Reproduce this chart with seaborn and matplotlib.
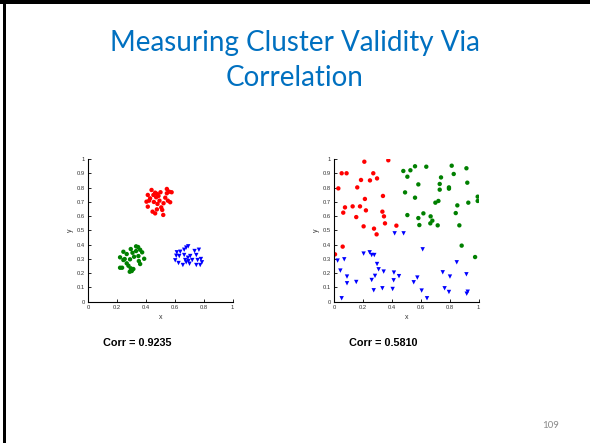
import matplotlib
matplotlib.use("Agg")
import matplotlib.pyplot as plt
from matplotlib.patches import Rectangle
import seaborn as sns
import pandas as pd

# ---- well separated clusters ----
left_red_x = [0.438, 0.412, 0.463, 0.451, 0.477, 0.500, 0.544, 0.560, 0.577, 0.428,
              0.470, 0.486, 0.533, 0.551, 0.567, 0.403, 0.421, 0.454, 0.493, 0.521,
              0.412, 0.475, 0.505, 0.512, 0.445, 0.463, 0.519, 0.544, 0.479]
left_red_y = [0.783, 0.748, 0.764, 0.748, 0.755, 0.767, 0.790, 0.771, 0.767, 0.724,
              0.732, 0.741, 0.729, 0.708, 0.697, 0.701, 0.708, 0.699, 0.708, 0.690,
              0.666, 0.647, 0.661, 0.643, 0.631, 0.619, 0.608, 0.760, 0.685]
left_green_x = [0.294, 0.331, 0.345, 0.359, 0.373, 0.243, 0.266, 0.306, 0.220, 0.252,
                0.289, 0.317, 0.347, 0.387, 0.266, 0.350, 0.278, 0.359, 0.220, 0.234,
                0.294, 0.312, 0.301, 0.287, 0.243, 0.331]
left_green_y = [0.369, 0.388, 0.383, 0.364, 0.346, 0.350, 0.334, 0.343, 0.311, 0.299,
                0.297, 0.315, 0.320, 0.301, 0.269, 0.285, 0.252, 0.264, 0.238, 0.238,
                0.234, 0.229, 0.215, 0.210, 0.292, 0.355]
left_blue_x = [0.678, 0.692, 0.664, 0.613, 0.637, 0.736, 0.766, 0.609, 0.630, 0.664,
               0.706, 0.748, 0.690, 0.602, 0.671, 0.694, 0.757, 0.780, 0.625, 0.655,
               0.678, 0.701, 0.748, 0.775, 0.787, 0.720]
left_blue_y = [0.379, 0.388, 0.364, 0.346, 0.350, 0.355, 0.364, 0.322, 0.320, 0.327,
               0.320, 0.327, 0.308, 0.290, 0.292, 0.285, 0.292, 0.299, 0.271, 0.257,
               0.276, 0.266, 0.257, 0.257, 0.276, 0.292]

# ---- random data split into clusters ----
right_red_x = [0.005, 0.051, 0.085, 0.208, 0.374, 0.270, 0.296, 0.185, 0.159, 0.028,
               0.247, 0.337, 0.074, 0.127, 0.178, 0.212, 0.219, 0.062, 0.152, 0.333,
               0.344, 0.351, 0.203, 0.275, 0.293, 0.430, 0.058]
right_red_y = [0.332, 0.900, 0.900, 0.981, 0.991, 0.900, 0.864, 0.853, 0.801, 0.794,
               0.850, 0.741, 0.661, 0.668, 0.668, 0.720, 0.640, 0.624, 0.593, 0.631,
               0.598, 0.549, 0.528, 0.512, 0.472, 0.533, 0.386]
right_green_x = [0.478, 0.527, 0.559, 0.637, 0.813, 0.915, 0.506, 0.739, 0.827, 0.582,
                 0.730, 0.794, 0.794, 0.730, 0.921, 0.490, 0.559, 0.993, 0.993, 0.721,
                 0.700, 0.928, 0.852, 0.506, 0.617, 0.582, 0.841, 0.667, 0.679, 0.665,
                 0.589, 0.716, 0.866, 0.882, 0.975]
right_green_y = [0.916, 0.921, 0.949, 0.946, 0.953, 0.935, 0.876, 0.871, 0.895, 0.822,
                 0.825, 0.801, 0.792, 0.785, 0.834, 0.766, 0.729, 0.736, 0.706, 0.706,
                 0.694, 0.694, 0.675, 0.607, 0.619, 0.586, 0.621, 0.598, 0.568, 0.549,
                 0.537, 0.535, 0.535, 0.393, 0.313]
right_blue_x = [0.418, 0.480, 0.612, 0.203, 0.245, 0.259, 0.277, 0.023, 0.069, 0.296,
                0.042, 0.307, 0.342, 0.088, 0.282, 0.259, 0.088, 0.152, 0.413, 0.448,
                0.411, 0.550, 0.575, 0.333, 0.404, 0.273, 0.605, 0.051, 0.642, 0.751,
                0.801, 0.848, 0.915, 0.764, 0.794, 0.924, 0.917]
right_blue_y = [0.479, 0.479, 0.367, 0.337, 0.346, 0.327, 0.327, 0.288, 0.297, 0.264,
                0.218, 0.227, 0.211, 0.176, 0.181, 0.152, 0.129, 0.138, 0.204, 0.179,
                0.150, 0.136, 0.169, 0.094, 0.089, 0.080, 0.078, 0.024, 0.024, 0.206,
                0.176, 0.276, 0.192, 0.094, 0.068, 0.070, 0.056]

x_ticks = [0, 0.2, 0.4, 0.6, 0.8, 1]
x_tick_labels = ["0", "0.2", "0.4", "0.6", "0.8", "1"]
y_ticks = [0, 0.1, 0.2, 0.3, 0.4, 0.5, 0.6, 0.7, 0.8, 0.9, 1]
y_tick_labels = ["0", "0.1", "0.2", "0.3", "0.4", "0.5", "0.6", "0.7", "0.8", "0.9", "1"]

corr_labels = ["Corr = 0.9235", "Corr = 0.5810"]
title_lines = ["Measuring Cluster Validity Via", "Correlation"]
page_number = "109"


def make_frame(rx, ry, gx, gy, bx, by):
    return pd.DataFrame({
        "x": rx + gx + bx,
        "y": ry + gy + by,
        "cluster": ["c1"] * len(rx) + ["c2"] * len(gx) + ["c3"] * len(bx),
    })


sns.set_theme(style="white")
plt.rcParams["font.family"] = ["Liberation Sans", "DejaVu Sans"]

W, H = 590, 443
fig = plt.figure(figsize=(W / 100, H / 100), dpi=100)
fig.patch.set_facecolor("white")

# slide frame (left and top edges)
fig.patches.append(Rectangle((2.5 / W, 0), 3.5 / W, 1, transform=fig.transFigure,
                             facecolor="black", edgecolor="none", zorder=0))
fig.patches.append(Rectangle((0, 1 - 4 / H), 1, 4 / H, transform=fig.transFigure,
                             facecolor="black", edgecolor="none", zorder=0))

palette = {"c1": "#ff0000", "c2": "#008000", "c3": "#0000ff"}
markers = {"c1": "o", "c2": "o", "c3": "v"}

frames = [
    make_frame(left_red_x, left_red_y, left_green_x, left_green_y, left_blue_x, left_blue_y),
    make_frame(right_red_x, right_red_y, right_green_x, right_green_y, right_blue_x, right_blue_y),
]
lefts = [88.3, 334.3]
ax_w, ax_h = 144.4, 142.7
ax_bottom = H - 301.7

for df, left, corr in zip(frames, lefts, corr_labels):
    ax = fig.add_axes([left / W, ax_bottom / H, ax_w / W, ax_h / H])
    sns.scatterplot(data=df, x="x", y="y", hue="cluster", style="cluster",
                    palette=palette, markers=markers, s=10, linewidth=0,
                    legend=False, ax=ax)
    ax.set_xlim(0, 1)
    ax.set_ylim(0, 1)
    ax.set_xticks(x_ticks)
    ax.set_xticklabels(x_tick_labels)
    ax.set_yticks(y_ticks)
    ax.set_yticklabels(y_tick_labels)
    ax.tick_params(direction="in", length=2, width=0.6, pad=2.5,
                   labelsize=4.2, colors="black", labelcolor="#333333",
                   bottom=True, left=True)
    ax.set_xlabel("x", fontsize=5, labelpad=3, color="#333333")
    ax.set_ylabel("y", fontsize=5, labelpad=0, color="#333333")
    ax.yaxis.set_label_coords(-0.1, 0.5)
    for side in ("top", "right"):
        ax.spines[side].set_visible(False)
    for side in ("left", "bottom"):
        ax.spines[side].set_color("black")
        ax.spines[side].set_linewidth(0.8)
    ax.set_facecolor("white")
    fig.text((left + 15) / W, 1 - 343 / H, corr, fontsize=7.8, fontweight="bold",
             color="black", ha="left", va="center")

# slide title, two centred lines
for line, base in zip(title_lines, [51, 86]):
    fig.text(295 / W, 1 - base / H, line, fontsize=20, color="#0070c0",
             ha="center", va="baseline", family=["Lato", "DejaVu Sans"])

fig.text(559 / W, 1 - 426 / H, page_number, fontsize=7, color="#8a8a8a",
         ha="right", va="center", family=["Lato", "DejaVu Sans"])

fig.savefig("out.png", dpi=100, facecolor="white")
